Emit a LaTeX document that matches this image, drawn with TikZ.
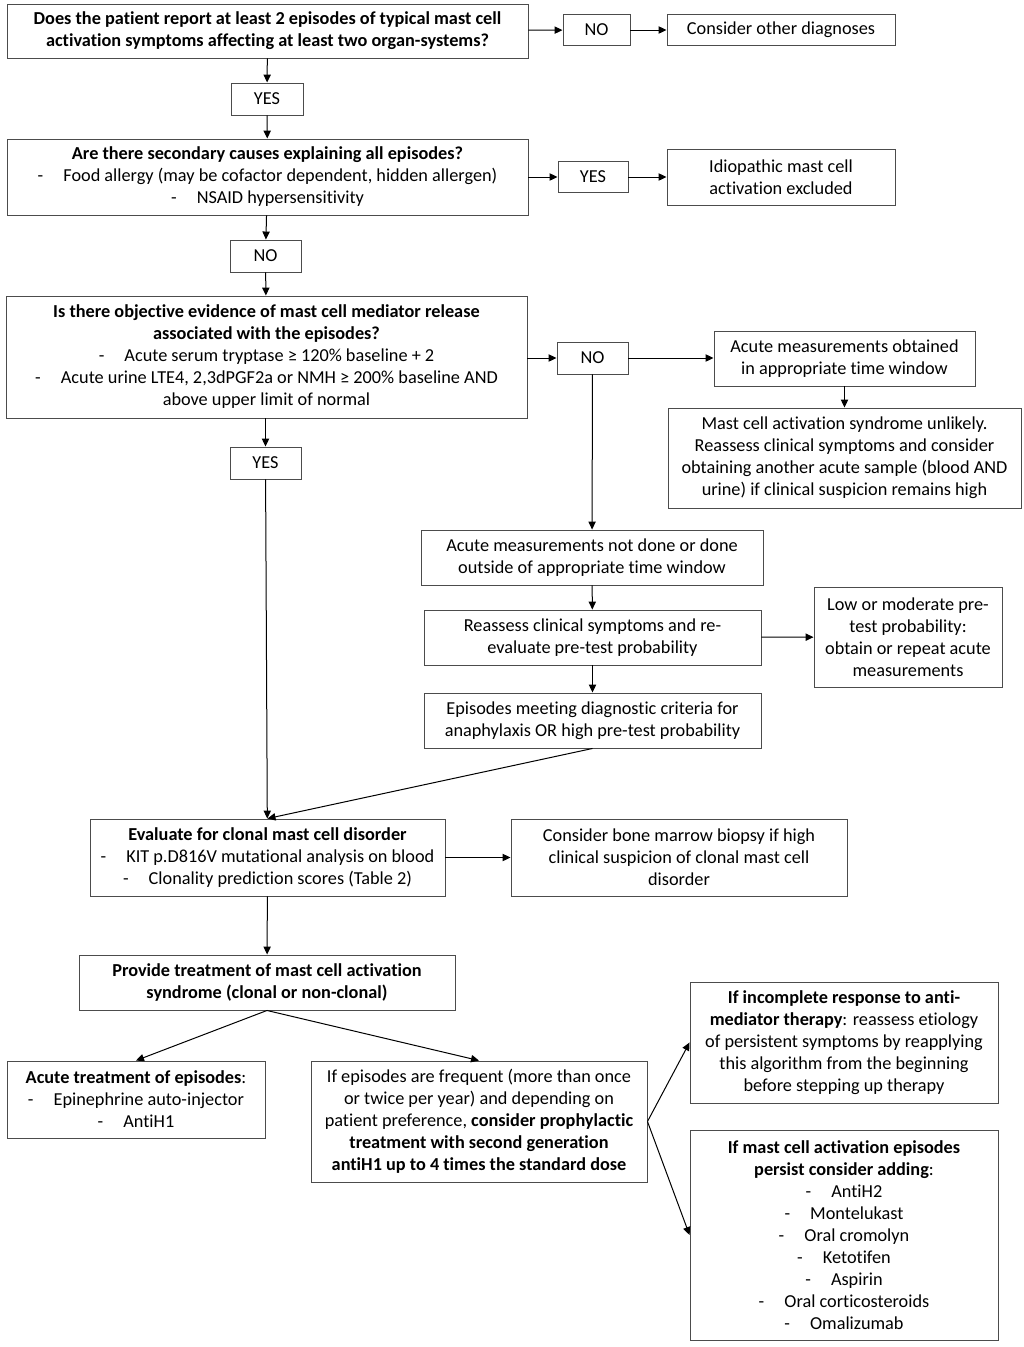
\documentclass[tikz,border=0pt]{standalone}
\usepackage{fontspec}
\setmainfont{Carlito}[Ligatures=NoCommon]
\usetikzlibrary{arrows.meta}
\def\arr{\draw[-{Triangle[length=6pt,width=5.5pt]}]}
\def\dash{-\hspace{1.1em}}

\begin{document}
\begin{tikzpicture}[x=0.75pt,y=-0.75pt,line width=0.75pt,
    box/.style={draw=black!70,line width=0.7pt,align=center,inner sep=0pt,
        font=\fontsize{13.7}{16.5}\selectfont},
    wh/.style 2 args={minimum width={#1*0.75pt},minimum height={#2*0.75pt}}]
\useasboundingbox (0,0) rectangle (1024,1347);
% questions down the left
\node[box,wh={521}{54}] (q1) at (267.5,31)
    {\textbf{Does the patient report at least 2 episodes of typical mast cell}\\
     \textbf{activation symptoms affecting at least two organ-systems?}};
\node[box,wh={72}{32}] (yes1) at (267,99) {YES};
\node[box,wh={521}{76}] (q2) at (267.5,177)
    {\textbf{Are there secondary causes explaining all episodes?}\\
     \dash Food allergy (may be cofactor dependent, hidden allergen)\\
     \dash NSAID hypersensitivity};
\node[box,wh={71}{32}] (no2) at (265.5,256) {NO};
\node[box,wh={521}{122}] (q3) at (266.5,357)
    {\textbf{Is there objective evidence of mast cell mediator release}\\
     \textbf{associated with the episodes?}\\
     \dash Acute serum tryptase ≥ 120\% baseline + 2\\
     \dash Acute urine LTE4, 2,3dPGF2a or NMH ≥ 200\% baseline AND\\
     above upper limit of normal};
\node[box,wh={71}{32}] (yes3) at (265.5,463) {YES};
% answers on the right
\node[box,wh={67}{31}] (no1) at (596.5,30) {NO};
\node[box,wh={228}{31}] (other) at (781,30) {Consider other diagnoses};
\node[box,wh={70}{31}] (yes2) at (593,177) {YES};
\node[box,wh={228}{56}] (excl) at (781,177) {Idiopathic mast cell\\activation excluded};
\node[box,wh={71}{32}] (no3) at (592.5,358) {NO};
\node[box,wh={261}{55}] (obt) at (844.5,358.5)
    {Acute measurements obtained\\in appropriate time window};
\node[box,wh={353}{100}] (unlik) at (844.5,458)
    {Mast cell activation syndrome unlikely.\\
     Reassess clinical symptoms and consider\\
     obtaining another acute sample (blood AND\\
     urine) if clinical suspicion remains high};
\node[box,wh={342}{55}] (notdone) at (592,557.5)
    {Acute measurements not done or done\\outside of appropriate time window};
\node[box,wh={337}{55}] (reass) at (592.5,637.5)
    {Reassess clinical symptoms and re-\\evaluate pre-test probability};
\node[box,wh={188}{100}] (lowmod) at (908,637)
    {Low or moderate pre-\\test probability:\\obtain or repeat acute\\measurements};
\node[box,wh={337}{55}] (meet) at (592.5,720.5)
    {Episodes meeting diagnostic criteria for\\anaphylaxis OR high pre-test probability};
% clonal work-up and treatment
\node[box,wh={355}{77}] (eval) at (267.5,857.5)
    {\textbf{Evaluate for clonal mast cell disorder}\\
     \dash KIT p.D816V mutational analysis on blood\\
     \dash Clonality prediction scores (Table 2)};
\node[box,wh={336}{77}] (marrow) at (679,857.5)
    {Consider bone marrow biopsy if high\\clinical suspicion of clonal mast cell\\disorder};
\node[box,wh={376}{55}] (treat) at (267,982.5)
    {\textbf{Provide treatment of mast cell activation}\\
     \textbf{syndrome (clonal or non-clonal)}};
\node[box,wh={258}{77}] (acute) at (136,1099.5)
    {\textbf{Acute treatment of episodes}:\\
     \dash Epinephrine auto-injector\\
     \dash AntiH1};
\node[box,wh={336}{121}] (freq) at (479,1121.5)
    {If episodes are frequent (more than once\\
     or twice per year) and depending on\\
     patient preference, \textbf{consider prophylactic}\\
     \textbf{treatment with second generation}\\
     \textbf{antiH1 up to 4 times the standard dose}};
\node[box,wh={308}{121}] (incompl) at (844,1042.5)
    {\textbf{If incomplete response to anti-}\\
     \textbf{mediator therapy}: reassess etiology\\
     of persistent symptoms by reapplying\\
     this algorithm from the beginning\\
     before stepping up therapy};
\node[box,wh={308}{210}] (persist) at (844,1235)
    {\textbf{If mast cell activation episodes}\\
     \textbf{persist consider adding}:\\
     \dash AntiH2\\ \dash Montelukast\\ \dash Oral cromolyn\\ \dash Ketotifen\\
     \dash Aspirin\\ \dash Oral corticosteroids\\ \dash Omalizumab};
% connectors
\arr (q1) -- (no1);
\arr (no1) -- (other);
\arr (q1) -- (yes1);
\arr (yes1) -- (q2);
\arr (q2) -- (yes2);
\arr (yes2) -- (excl);
\arr (q2) -- (no2);
\arr (no2) -- (q3);
\arr (q3.east |- no3) -- (no3);
\arr (no3) -- (obt.west |- no3);
\arr (obt) -- (unlik);
\arr (no3) -- (notdone);
\arr (q3.south -| yes3) -- (yes3);
\arr (yes3) -- (eval);
\arr (notdone) -- (reass);
\arr (reass) -- (lowmod);
\arr (reass) -- (meet);
\arr (meet.south) -- (eval.north);
\arr (eval) -- (marrow);
\arr (eval) -- (treat);
\arr (treat.south) -- (acute.north);
\arr (treat.south) -- (freq.north);
\arr (freq.east) -- (incompl.west);
\arr (freq.east) -- (persist.west);
\end{tikzpicture}
\end{document}
